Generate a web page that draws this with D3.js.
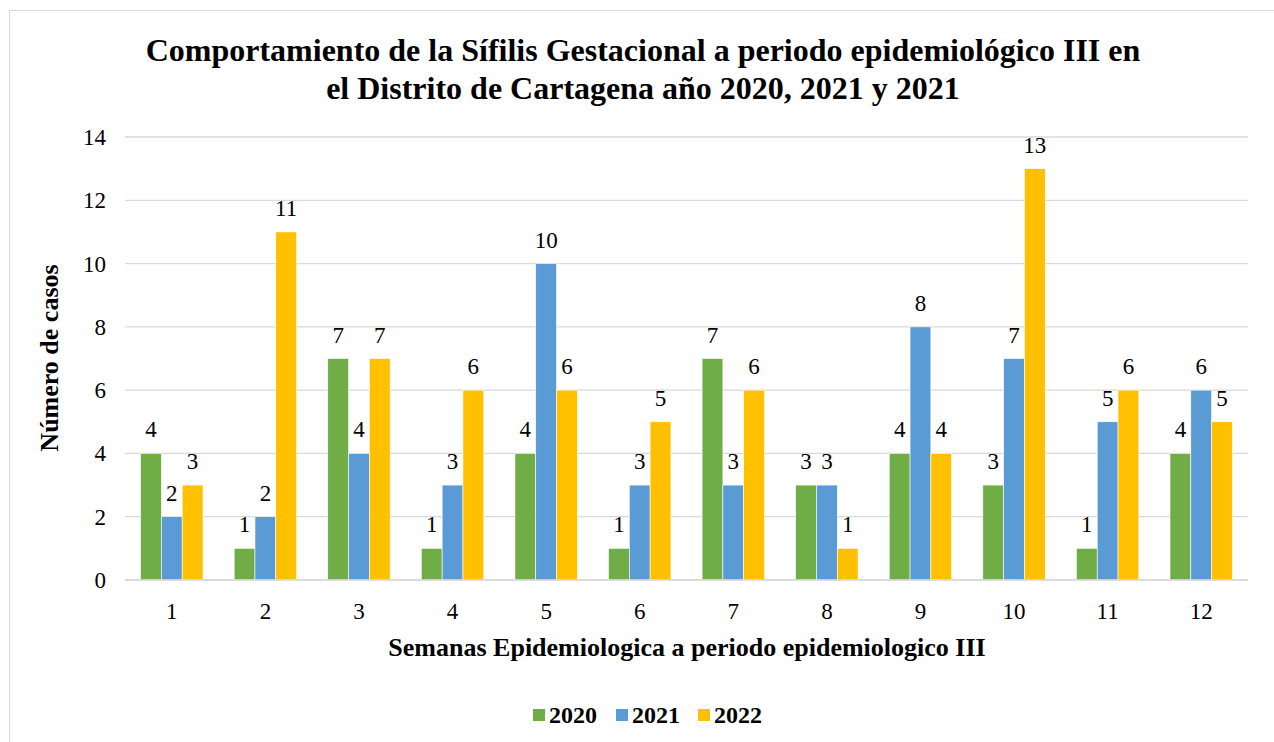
<!DOCTYPE html>
<html>
<head>
<meta charset="utf-8">
<script src="https://cdn.jsdelivr.net/npm/d3@7"></script>
<style>
  body { margin: 0; background: #fff; }
  svg text { font-family: "Liberation Serif", "Times New Roman", serif; }
</style>
</head>
<body>
<svg id="chart" width="1274" height="742"></svg>
<script>
// data
var semanas = ["1","2","3","4","5","6","7","8","9","10","11","12"];
var years = ["2020", "2021", "2022"];
var casos2020 = [4, 1, 7, 1, 4, 1, 7, 3, 4, 3, 1, 4];
var casos2021 = [2, 2, 4, 3, 10, 3, 3, 3, 8, 7, 5, 6];
var casos2022 = [3, 11, 7, 6, 6, 5, 6, 1, 4, 13, 6, 5];
var yTicks = [0, 2, 4, 6, 8, 10, 12, 14];
var colors = ["#70AD47", "#5B9BD5", "#FFC000"];

var series = [casos2020, casos2021, casos2022];

var svg = d3.select('#chart');

// chart frame
svg.append("rect")
  .attr("x", 9.5).attr("y", 10.5)
  .attr("width", 1290).attr("height", 760)
  .attr("fill", "white").attr("stroke", "#D9D9D9");

var plotLeft = 125, plotRight = 1248, plotTop = 137, plotBottom = 580;

var x = d3.scaleBand().domain(semanas).range([plotLeft, plotRight]).paddingInner(0.333).paddingOuter(0.1665);
var xs = d3.scaleBand().domain(years).range([0, x.bandwidth()]);
var y = d3.scaleLinear().domain([0, 14]).range([plotBottom, plotTop]);

// gridlines
svg.append("g").selectAll("line")
  .data(yTicks)
  .enter().append("line")
  .attr("x1", plotLeft).attr("x2", plotRight)
  .attr("y1", d => y(d)).attr("y2", d => y(d))
  .attr("stroke", "#D9D9D9").attr("stroke-width", 1.3);

// y tick labels
svg.append("g").selectAll("text")
  .data(yTicks)
  .enter().append("text")
  .attr("x", 106).attr("y", d => y(d) + 8)
  .attr("text-anchor", "end")
  .attr("font-size", 23)
  .text(d => d);

// bars
var groups = svg.append("g").selectAll("g")
  .data(series)
  .enter().append("g")
  .attr("fill", (d, i) => colors[i]);

groups.each(function(vals, i) {
  var g = d3.select(this);
  g.selectAll("rect")
    .data(vals)
    .enter().append("rect")
    .attr("x", (d, j) => x(semanas[j]) + xs(years[i]))
    .attr("y", d => y(d))
    .attr("width", xs.bandwidth())
    .attr("height", d => y(0) - y(d))
    .attr("stroke", "white").attr("stroke-width", 0.6);

  g.selectAll("text")
    .data(vals)
    .enter().append("text")
    .attr("x", (d, j) => x(semanas[j]) + xs(years[i]) + xs.bandwidth() / 2)
    .attr("y", d => y(d) - 16)
    .attr("text-anchor", "middle")
    .attr("font-size", 23)
    .attr("fill", "#000")
    .text(d => d);
});

// baseline
svg.append("line")
  .attr("x1", plotLeft).attr("x2", plotRight)
  .attr("y1", y(0)).attr("y2", y(0))
  .attr("stroke", "#D9D9D9").attr("stroke-width", 1.5);

// x tick labels
svg.append("g").selectAll("text")
  .data(semanas)
  .enter().append("text")
  .attr("x", d => x(d) + x.bandwidth() / 2)
  .attr("y", 619)
  .attr("text-anchor", "middle")
  .attr("font-size", 23)
  .text(d => d);

// title
svg.append("text")
  .attr("x", 643).attr("y", 61)
  .attr("text-anchor", "middle")
  .attr("font-size", 32).attr("font-weight", "bold")
  .text("Comportamiento de la Sífilis Gestacional a periodo epidemiológico III en");
svg.append("text")
  .attr("x", 643).attr("y", 99)
  .attr("text-anchor", "middle")
  .attr("font-size", 32).attr("font-weight", "bold")
  .text("el Distrito de Cartagena año 2020, 2021 y 2021");

// axis titles
svg.append("text")
  .attr("x", 687).attr("y", 656)
  .attr("text-anchor", "middle")
  .attr("font-size", 26).attr("font-weight", "bold")
  .text("Semanas Epidemiologica a periodo epidemiologico III");

svg.append("text")
  .attr("transform", "translate(58,358) rotate(-90)")
  .attr("text-anchor", "middle")
  .attr("font-size", 26).attr("font-weight", "bold")
  .text("Número de casos");

// legend
var legendX = [533, 616, 698];
var legend = svg.append("g").selectAll("g")
  .data(years)
  .enter().append("g")
  .attr("transform", (d, i) => "translate(" + legendX[i] + ",709)");
legend.append("rect")
  .attr("width", 12).attr("height", 12)
  .attr("fill", (d, i) => colors[i]);
legend.append("text")
  .attr("x", 16).attr("y", 14)
  .attr("font-size", 24).attr("font-weight", "bold")
  .text(d => d);
</script>
</body>
</html>
